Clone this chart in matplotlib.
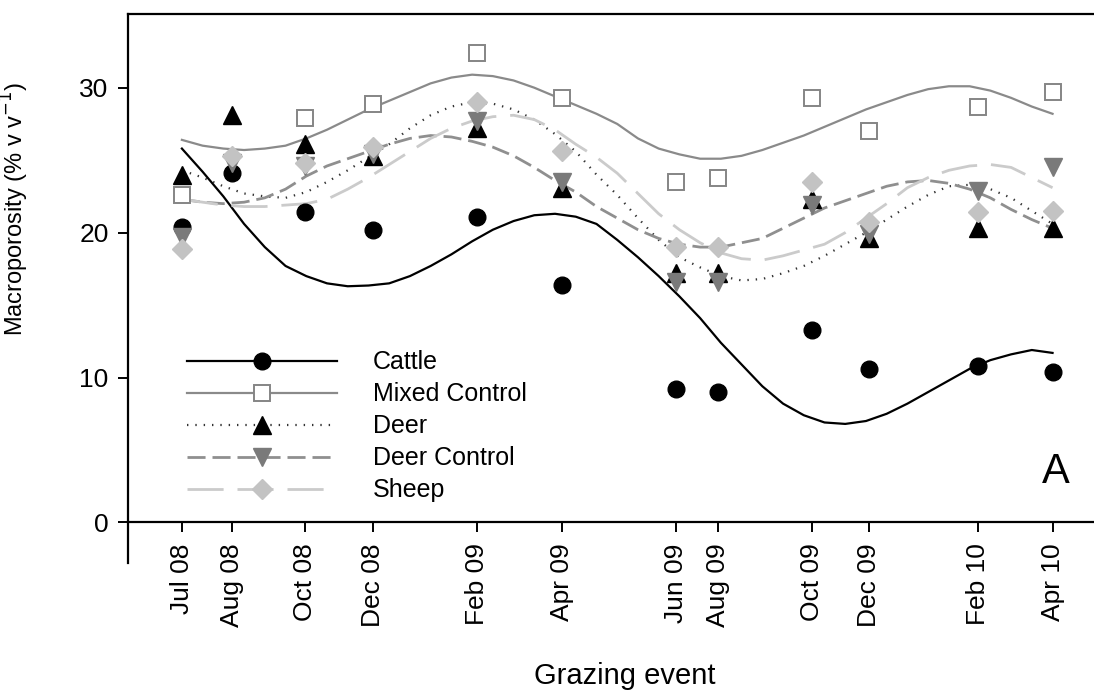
import matplotlib
matplotlib.use("Agg")
import matplotlib.pyplot as plt
from matplotlib.lines import Line2D
import numpy as np

plt.rcParams['font.family'] = ['Liberation Sans', 'DejaVu Sans']
plt.rcParams['lines.scale_dashes'] = False

# grazing events, position in months after Jul 2008
event_labels = ['Jul 08', 'Aug 08', 'Oct 08', 'Dec 08', 'Feb 09', 'Apr 09',
                'Jun 09', 'Aug 09', 'Oct 09', 'Dec 09', 'Feb 10', 'Apr 10']
event_months = [0, 1.21, 2.97, 4.62, 7.11, 9.16, 11.92, 12.94, 15.19, 16.58, 19.20, 21.0]

# measured macroporosity (% v/v)
cattle = [20.4, 24.1, 21.4, 20.2, 21.1, 16.4, 9.2, 9.0, 13.3, 10.6, 10.8, 10.4]
mixed_control = [22.6, np.nan, 27.9, 28.9, 32.4, 29.3, 23.5, 23.8, 29.3, 27.0, 28.7, 29.7]
deer = [24.0, 28.1, 26.1, 25.3, 27.2, 23.1, 17.2, 17.2, 22.3, 19.6, 20.3, 20.3]
deer_control = [19.7, 24.8, 24.6, 25.4, 27.7, 23.5, 16.6, 16.6, 21.9, 19.9, 22.9, 24.5]
sheep = [18.9, 25.3, 24.8, 25.9, 29.0, 25.6, 19.0, 19.0, 23.5, 20.7, 21.4, 21.5]

# fitted curves, read every half month
fit_months = [i / 2 for i in range(43)]
cattle_fit = [25.8, 24.2, 22.5, 20.6, 19.0, 17.7, 17.0, 16.5, 16.3, 16.35, 16.5,
              17.0, 17.7, 18.5, 19.4, 20.2, 20.8, 21.2, 21.3, 21.1, 20.6, 19.5,
              18.3, 17.0, 15.6, 14.1, 12.4, 10.9, 9.4, 8.2, 7.4, 6.9, 6.8, 7.0,
              7.5, 8.2, 9.0, 9.8, 10.6, 11.2, 11.6, 11.9, 11.7]
mixed_fit = [26.4, 26.0, 25.8, 25.7, 25.8, 26.0, 26.5, 27.1, 27.8, 28.5, 29.1,
             29.7, 30.3, 30.7, 30.9, 30.8, 30.5, 30.0, 29.4, 28.8, 28.2, 27.5,
             26.5, 25.8, 25.4, 25.1, 25.1, 25.3, 25.7, 26.2, 26.7, 27.3, 27.9,
             28.5, 29.0, 29.5, 29.9, 30.1, 30.1, 29.8, 29.3, 28.7, 28.2]
deer_fit = [24.3, 23.8, 23.2, 22.7, 22.5, 22.4, 22.8, 23.5, 24.3, 25.2, 26.1,
            27.2, 28.1, 28.7, 29.0, 28.9, 28.5, 27.8, 26.8, 25.6, 24.0, 22.6,
            21.0, 19.5, 18.3, 17.6, 17.0, 16.7, 16.8, 17.2, 17.7, 18.4, 19.2,
            20.0, 20.9, 21.8, 22.6, 23.2, 23.3, 23.0, 22.4, 21.5, 20.6]
deer_control_fit = [22.3, 22.1, 22.0, 22.1, 22.4, 23.0, 23.9, 24.6, 25.1, 25.6, 26.1,
                    26.5, 26.7, 26.6, 26.3, 25.9, 25.3, 24.5, 23.6, 22.8, 21.8, 21.0,
                    20.2, 19.6, 19.2, 19.0, 19.0, 19.3, 19.6, 20.3, 21.0, 21.7, 22.2,
                    22.7, 23.2, 23.5, 23.6, 23.4, 23.0, 22.4, 21.6, 20.9, 20.3]
sheep_fit = [22.3, 22.1, 21.9, 21.8, 21.8, 21.9, 22.0, 22.3, 23.0, 23.8, 24.7,
             25.6, 26.5, 27.2, 27.7, 28.0, 28.1, 27.8, 27.1, 26.1, 25.2, 24.1,
             22.7, 21.3, 20.2, 19.3, 18.6, 18.2, 18.1, 18.4, 18.8, 19.2, 20.0,
             21.0, 22.0, 23.1, 23.8, 24.3, 24.6, 24.7, 24.5, 23.8, 23.1]

fig = plt.figure(figsize=(10.94, 6.9), dpi=100)
ax = fig.add_axes([0.117, 0.184, 0.883, 0.796])

series = [
    ('Cattle', cattle, cattle_fit,
     dict(color='black', lw=1.6, ls='-'),
     dict(marker='o', ms=12, mfc='black', mec='black')),
    ('Mixed Control', mixed_control, mixed_fit,
     dict(color='#8a8a8a', lw=1.6, ls='-'),
     dict(marker='s', ms=12, mfc='white', mec='#858585', mew=1.4)),
    ('Deer', deer, deer_fit,
     dict(color='#333333', lw=1.6, ls=(0, (1, 5))),
     dict(marker='^', ms=13, mfc='black', mec='black')),
    ('Deer Control', deer_control, deer_control_fit,
     dict(color='#8f8f8f', lw=2.0, ls=(0, (13, 5))),
     dict(marker='v', ms=13, mfc='#7a7a7a', mec='#7a7a7a')),
    ('Sheep', sheep, sheep_fit,
     dict(color='#cbcbcb', lw=2.0, ls=(0, (26, 10))),
     dict(marker='D', ms=10.5, mfc='#c3c3c3', mec='#c3c3c3')),
]

handles = []
for name, obs, fit, lstyle, mstyle in series:
    ax.plot(fit_months, fit, **lstyle, zorder=2)
    ax.plot(event_months, obs, ls='none', **mstyle, zorder=3)
    handles.append(Line2D([], [], **lstyle, **mstyle))

leg = ax.legend(handles, [s[0] for s in series], loc='center left',
                bbox_to_anchor=(0.061, 0.249), frameon=False, fontsize=18,
                handlelength=6.0, handletextpad=1.45, labelspacing=0.32,
                borderpad=0, borderaxespad=0, numpoints=1)

ax.text(21.08, 3.5, 'A', fontsize=30, ha='center', va='center')

ax.set_xlim(-1.3, 22.0)
ax.set_ylim(-2.8, 35.1)
ax.set_yticks([0, 10, 20, 30])
ax.set_xticks(event_months)
ax.set_xticklabels(event_labels)
ax.tick_params(axis='y', labelsize=19, direction='out', length=7, width=1.4, pad=7)
ax.tick_params(axis='x', labelsize=19, labelrotation=90, direction='out',
               length=7, width=1.4, pad=8)

ax.spines['bottom'].set_position(('data', 0))
ax.spines['right'].set_visible(False)
for sp in ['left', 'bottom', 'top']:
    ax.spines[sp].set_linewidth(1.6)

ax.set_ylabel('Macroporosity (% v v$^{-1}$)', fontsize=17)
ax.yaxis.set_label_coords(-0.100, 0.645)
ax.set_xlabel('Grazing event', fontsize=21)
ax.xaxis.set_label_coords(0.514, -0.180)

fig.savefig('out.png', dpi=100)
